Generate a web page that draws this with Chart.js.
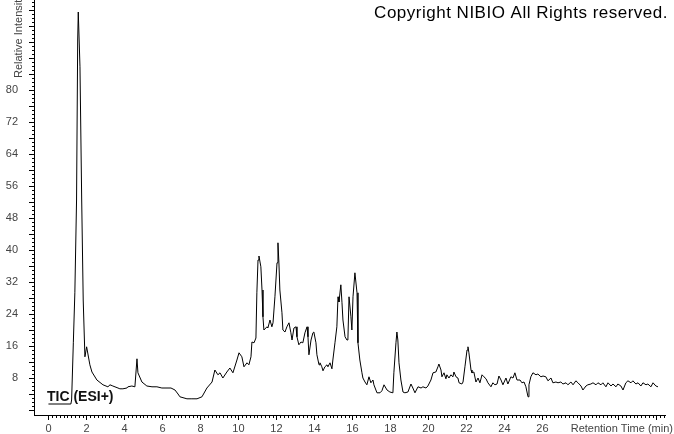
<!DOCTYPE html>
<html>
<head>
<meta charset="utf-8">
<title>TIC (ESI+)</title>
<script src="https://cdn.jsdelivr.net/npm/chart.js@4.4.1/dist/chart.umd.min.js"></script>
<style>
    body { margin: 0; background: #fff; }
    canvas { display: block; }
</style>
</head>
<body>
<canvas id="ticChart" width="674" height="434"></canvas>
<script>
/**
 * TIC chromatogram (ESI+)
 * Values
 */

// Retention time (min)
const retentionTime = [
    0.00, 1.18, 1.22, 1.31, 1.39, 1.48, 1.54, 1.57, 1.66, 1.75, 1.83, 1.92, 2.01, 2.18, 2.29, 2.55,
    2.87, 3.13, 3.24, 3.39, 3.66, 3.76, 3.92, 4.13, 4.18, 4.39, 4.55, 4.66, 4.71, 4.92, 5.18, 5.45,
    5.71, 5.97, 6.24, 6.45, 6.66, 6.82, 6.92, 7.29, 7.55, 7.82, 8.08, 8.34, 8.61, 8.76, 8.92,
    9.03, 9.18, 9.39, 9.55, 9.71, 9.92, 10.03, 10.18, 10.29, 10.45, 10.55, 10.66, 10.71, 10.82, 10.92,
    10.97, 11.03, 11.08, 11.18, 11.24, 11.29, 11.34, 11.50, 11.55, 11.66, 11.76, 11.82, 11.92, 12.03,
    12.08, 12.13, 12.18, 12.29, 12.34, 12.45, 12.55, 12.66, 12.76, 12.82, 12.92, 13.03, 13.08, 13.18,
    13.29, 13.39, 13.50, 13.61, 13.66, 13.71, 13.82, 13.92, 13.97, 14.08, 14.13, 14.24, 14.29, 14.39,
    14.45, 14.55, 14.66, 14.71, 14.82, 14.92, 14.97, 15.08, 15.18, 15.24, 15.29, 15.39, 15.45, 15.50,
    15.61, 15.71, 15.76, 15.82, 15.92, 15.97, 16.03, 16.13, 16.24, 16.29, 16.39, 16.50, 16.55, 16.66,
    16.76, 16.87, 16.97, 17.08, 17.13, 17.29, 17.45, 17.55, 17.66, 17.82, 17.97, 18.13, 18.18, 18.29,
    18.34, 18.39, 18.45, 18.55, 18.66, 18.76, 18.92, 19.08, 19.18, 19.29, 19.45, 19.61, 19.71, 19.87,
    19.97, 20.13, 20.24, 20.39, 20.50, 20.55, 20.66, 20.71, 20.82, 20.92, 20.97, 21.08, 21.18, 21.29,
    21.34, 21.45, 21.55, 21.61, 21.76, 21.82, 21.92, 22.03, 22.08, 22.13, 22.24, 22.29, 22.39, 22.50,
    22.61, 22.71, 22.82, 22.92, 23.03, 23.13, 23.29, 23.39, 23.50, 23.61, 23.71, 23.82, 23.92, 24.08,
    24.18, 24.34, 24.45, 24.55, 24.66, 24.82, 24.92, 25.03, 25.13, 25.24, 25.29, 25.39, 25.50, 25.66,
    25.76, 25.92, 26.03, 26.18, 26.29, 26.45, 26.55, 26.71, 26.82, 26.97, 27.08, 27.24, 27.34, 27.50,
    27.61, 27.76, 27.87, 28.03, 28.13, 28.29, 28.39, 28.55, 28.66, 28.82, 28.92, 29.08, 29.18, 29.34,
    29.45, 29.61, 29.71, 29.87, 29.97, 30.13, 30.24, 30.39, 30.50, 30.66, 30.76, 30.92, 31.03, 31.18,
    31.29, 31.45, 31.55, 31.71, 31.82, 31.97, 32.08
];

// Relative intensity (%)
const relIntensity = [
    1.5, 1.5, 2.5, 16.8, 29.3, 52.5, 92.5, 99.5, 85.8, 52.5, 27.5, 13.3, 15.8, 11.3, 9.5, 7.5,
    6.3, 5.8, 6.3, 6.0, 5.5, 5.3, 5.3, 5.5, 5.8, 6.0, 5.8, 12.8, 9.3, 7.0, 6.0, 5.8,
    5.8, 5.5, 5.5, 5.5, 5.0, 4.0, 3.3, 2.8, 2.8, 2.8, 3.3, 5.5, 7.0, 10.0, 8.8,
    9.3, 8.0, 9.5, 10.5, 9.3, 12.5, 14.3, 13.3, 10.8, 11.8, 11.3, 13.3, 17.0, 16.8, 18.0,
    29.3, 37.5, 38.5, 35.8, 30.0, 23.3, 20.0, 20.8, 20.5, 22.5, 20.8, 21.8, 28.3, 36.8,
    41.8, 36.8, 30.0, 24.3, 20.0, 19.5, 20.8, 21.8, 19.3, 17.5, 20.5, 20.8, 18.3, 16.3,
    17.0, 16.8, 19.3, 20.8, 18.3, 13.8, 17.5, 19.3, 19.5, 16.8, 13.8, 11.3, 11.8, 10.8,
    9.8, 10.8, 11.3, 10.8, 11.8, 10.3, 12.5, 16.8, 20.8, 28.3, 27.0, 31.3, 26.8, 22.5,
    18.3, 17.5, 17.5, 28.3, 23.3, 20.0, 28.3, 34.3, 29.3, 16.8, 12.5, 9.3, 8.0, 7.0,
    6.3, 8.3, 6.8, 7.5, 6.3, 4.3, 4.3, 4.8, 6.3, 5.0, 4.5, 4.3, 9.3, 16.8,
    19.5, 17.5, 11.8, 7.5, 4.5, 4.3, 4.5, 6.5, 5.5, 4.3, 5.8, 5.5, 5.8, 5.5,
    6.0, 7.5, 9.3, 9.5, 10.8, 11.5, 10.0, 8.3, 9.3, 7.8, 8.8, 8.0, 8.8, 8.3,
    9.5, 8.3, 8.0, 6.8, 6.5, 7.0, 10.8, 15.0, 15.8, 14.3, 10.0, 9.3, 9.5, 7.0,
    8.0, 6.8, 8.8, 8.3, 7.8, 6.8, 5.8, 6.8, 6.3, 6.5, 8.5, 7.5, 6.3, 8.0,
    6.5, 8.3, 8.0, 9.3, 7.5, 7.5, 6.8, 7.0, 5.8, 3.3, 6.3, 8.3, 9.3, 8.8,
    9.0, 8.3, 8.5, 8.3, 7.3, 8.0, 6.8, 7.0, 6.8, 7.0, 6.5, 6.8, 6.3, 7.0,
    6.3, 7.3, 6.8, 6.0, 5.0, 6.0, 6.3, 6.5, 6.8, 6.3, 6.8, 6.3, 6.8, 5.8,
    6.8, 6.0, 6.5, 5.8, 6.5, 6.0, 5.0, 6.8, 7.3, 6.8, 7.3, 6.5, 6.8, 6.0,
    6.8, 6.3, 6.5, 5.8, 6.8, 6.0, 5.8
];

// Tick labels shown on the axes
const xTickLabels = [0, 2, 4, 6, 8, 10, 12, 14, 16, 18, 20, 22, 24, 26];
const yTickLabels = [8, 16, 24, 32, 40, 48, 56, 64, 72, 80];

const copyrightText = 'Copyright NIBIO All Rights reserved.';
const traceLabel = 'TIC (ESI+)';
const xAxisTitle = 'Retention Time (min)';
const yAxisTitle = 'Relative Intensity';

const fontFamily = '"Liberation Sans", Arial, sans-serif';
Chart.defaults.font.family = fontFamily;

/**
 * Draws minor/major tick marks and the extra texts
 */
const chromDecor = {
    id: 'chromDecor',
    afterDraw(chart) {
        const { ctx, chartArea, scales } = chart;
        const xs = scales.x;
        const ys = scales.y;

        ctx.save();
        ctx.strokeStyle = '#000';
        ctx.lineWidth = 1;
        ctx.beginPath();

        // x ticks every 0.2 min, longer every 2 min
        for (let i = 0; ; i++) {
            const px = xs.getPixelForValue(i / 5);
            if (px > chartArea.right) break;
            const x = Math.round(px) + 0.5;
            const len = i % 10 === 0 ? 5 : 3;
            ctx.moveTo(x, chartArea.bottom);
            ctx.lineTo(x, chartArea.bottom + len);
        }

        // y ticks every 1 unit, longer every 4
        for (let v = 0; v <= ys.max; v++) {
            const y = Math.round(ys.getPixelForValue(v)) + 0.5;
            const len = v % 4 === 0 ? 5 : 2;
            ctx.moveTo(chartArea.left - len, y);
            ctx.lineTo(chartArea.left, y);
        }
        ctx.stroke();

        // Copyright line
        ctx.fillStyle = '#000';
        ctx.font = '17px ' + fontFamily;
        ctx.letterSpacing = '0.5px';
        ctx.textAlign = 'right';
        ctx.textBaseline = 'alphabetic';
        ctx.fillText(copyrightText, 668, 18);
        ctx.letterSpacing = '0px';

        // Trace label
        ctx.fillStyle = '#111';
        ctx.font = 'bold 14px ' + fontFamily;
        ctx.textAlign = 'left';
        ctx.fillText(traceLabel, 47, 401);

        // Axis titles
        ctx.fillStyle = '#444';
        ctx.font = '11px ' + fontFamily;
        ctx.textAlign = 'right';
        ctx.textBaseline = 'middle';
        ctx.fillText(xAxisTitle, 673, 429);

        ctx.translate(19, 78);
        ctx.rotate(-Math.PI / 2);
        ctx.textAlign = 'left';
        ctx.fillText(yAxisTitle, 0, 0);

        ctx.restore();
    }
};

const points = retentionTime.map((t, i) => ({ x: t, y: relIntensity[i] }));

new Chart(document.getElementById('ticChart'), {
    type: 'line',
    data: {
        datasets: [{
            label: traceLabel,
            data: points,
            borderColor: '#000',
            borderWidth: 1,
            pointRadius: 0,
            tension: 0,
            fill: false
        }]
    },
    options: {
        responsive: false,
        animation: false,
        devicePixelRatio: 1,
        layout: {
            padding: { top: 0, right: 9, bottom: 0, left: 0 }
        },
        scales: {
            x: {
                type: 'linear',
                min: -0.76,
                max: 32.45,
                afterBuildTicks: scale => {
                    scale.ticks = xTickLabels.map(v => ({ value: v }));
                },
                afterFit: scale => {
                    scale.height = 19;
                    scale.paddingLeft = 0;
                    scale.paddingRight = 0;
                },
                ticks: {
                    color: '#444',
                    font: { size: 11 },
                    padding: 7,
                    maxRotation: 0,
                    autoSkip: false
                },
                grid: { display: false, drawTicks: false },
                border: { display: true, color: '#000', width: 1 }
            },
            y: {
                min: -1.25,
                max: 102.5,
                afterBuildTicks: scale => {
                    scale.ticks = yTickLabels.map(v => ({ value: v }));
                },
                afterFit: scale => {
                    scale.width = 34;
                    scale.paddingTop = 0;
                    scale.paddingBottom = 0;
                },
                ticks: {
                    color: '#444',
                    font: { size: 11 },
                    padding: 16,
                    autoSkip: false
                },
                grid: { display: false, drawTicks: false },
                border: { display: true, color: '#000', width: 1 }
            }
        },
        plugins: {
            legend: { display: false },
            tooltip: { enabled: false }
        }
    },
    plugins: [chromDecor]
});
</script>
</body>
</html>
